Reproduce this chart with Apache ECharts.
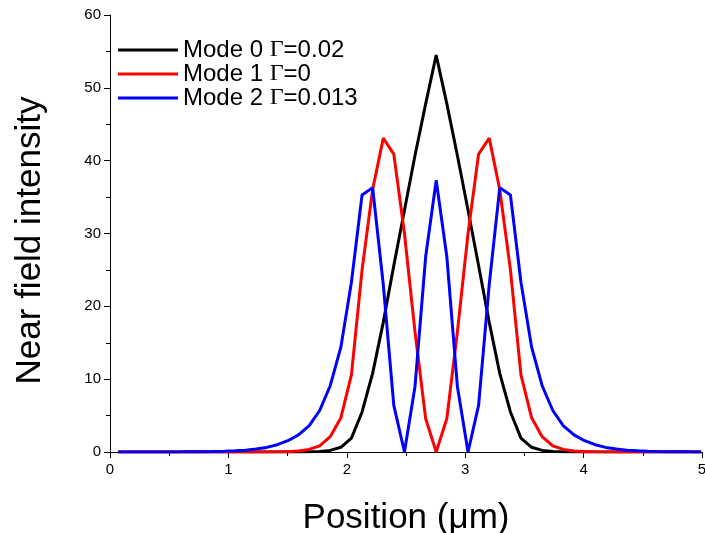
<!DOCTYPE html>
<html>
<head>
<meta charset="utf-8">
<script src="https://cdn.jsdelivr.net/npm/echarts@6/dist/echarts.min.js"></script>
<style>
	html, body { margin: 0; padding: 0; background: #fff; }
</style>
</head>
<body>
<div id="mainnearfield" style="width:705px;height:533px;"></div>
<script>
	// sample positions (um)
	var positions = [0.070, 0.160, 0.249, 0.339, 0.428, 0.518, 0.607, 0.697, 0.786, 0.876,
		0.965, 1.055, 1.144, 1.234, 1.323, 1.413, 1.502, 1.592, 1.681, 1.771,
		1.860, 1.950, 2.039, 2.129, 2.218, 2.308, 2.397, 2.487, 2.576, 2.666,
		2.755, 2.845, 2.934, 3.024, 3.113, 3.203, 3.292, 3.382, 3.471, 3.561,
		3.650, 3.740, 3.829, 3.919, 4.008, 4.098, 4.187, 4.277, 4.366, 4.456,
		4.545, 4.635, 4.724, 4.814, 4.903, 4.993];

	var mode0 = [0, 0, 0, 0, 0, 0, 0, 0, 0, 0,
		0, 0, 0, 0, 0, 0, 0, 0.01, 0.03, 0.08,
		0.22, 0.65, 1.9, 5.5, 10.8, 17.8, 25.6, 33.2, 40.7, 47.8,
		54.5, 47.8, 40.7, 33.2, 25.6, 17.8, 10.8, 5.5, 1.9, 0.65,
		0.22, 0.08, 0.03, 0.01, 0, 0, 0, 0, 0, 0,
		0, 0, 0, 0, 0, 0];

	var mode1 = [0, 0, 0, 0, 0, 0, 0, 0, 0, 0,
		0, 0, 0, 0, 0.01, 0.02, 0.05, 0.14, 0.35, 0.85,
		2.1, 4.7, 10.6, 25.0, 36.0, 43.1, 40.9, 30.0, 16.5, 4.6,
		0, 4.6, 16.5, 30.0, 40.9, 43.1, 36.0, 25.0, 10.6, 4.7,
		2.1, 0.85, 0.35, 0.14, 0.05, 0.02, 0.01, 0, 0, 0,
		0, 0, 0, 0, 0, 0];

	var mode2 = [0.003, 0.004, 0.005, 0.007, 0.01, 0.015, 0.02, 0.03, 0.04, 0.06,
		0.1, 0.16, 0.25, 0.4, 0.63, 1.0, 1.55, 2.35, 3.6, 5.7,
		9.1, 14.4, 23.3, 35.3, 36.3, 23.0, 6.4, 0, 9.0, 26.8,
		37.3, 26.8, 9.0, 0, 6.4, 23.0, 36.3, 35.3, 23.3, 14.4,
		9.1, 5.7, 3.6, 2.35, 1.55, 1.0, 0.63, 0.4, 0.25, 0.16,
		0.1, 0.06, 0.04, 0.03, 0.02, 0.015];

	var modeNames = ['Mode 0 Γ=0.02', 'Mode 1 Γ=0', 'Mode 2 Γ=0.013'];
	var modeColors = ['#000000', '#ff0000', '#0000ff'];

	function toPairs(vals) {
		var out = [];
		for (var i = 0; i < positions.length; i++) {
			out.push([positions[i], vals[i]]);
		}
		return out;
	}

	var nearField = echarts.init(document.getElementById('mainnearfield'), null, {
		renderer: 'canvas'
	});

	var allModes = [mode0, mode1, mode2];
	var seriesList = [];
	for (var m = 0; m < allModes.length; m++) {
		seriesList.push({
			name: modeNames[m],
			type: 'line',
			data: toPairs(allModes[m]),
			symbol: 'none',
			lineStyle: { color: modeColors[m], width: 3 },
			itemStyle: { color: modeColors[m] },
			animation: false
		});
	}

	var axisFont = 'Liberation Sans, Arial, sans-serif';

	option = {
		backgroundColor: '#fff',
		animation: false,
		grid: { left: 110, right: 3, top: 15, bottom: 81, outerBoundsMode: 'none' },
		legend: {
			orient: 'vertical',
			left: 113,
			top: 33,
			itemWidth: 60,
			itemHeight: 3,
			itemGap: 0,
			icon: 'rect',
			data: modeNames,
			formatter: function(name) {
				return name.replace('Γ', '{g|Γ}');
			},
			textStyle: {
				fontSize: 24,
				color: '#000',
				fontFamily: axisFont,
				lineHeight: 24,
				rich: {
					g: { fontFamily: 'Liberation Serif, serif', fontSize: 24, color: '#000' }
				}
			}
		},
		xAxis: {
			type: 'value',
			min: 0,
			max: 5,
			interval: 1,
			name: 'Position (μm)',
			nameLocation: 'middle',
			nameGap: 49,
			nameTextStyle: { fontSize: 35, color: '#000', fontFamily: axisFont },
			axisLine: { lineStyle: { color: '#000', width: 1 } },
			axisTick: { inside: false, length: 6, lineStyle: { color: '#000' } },
			minorTick: { show: true, splitNumber: 2, length: 4, lineStyle: { color: '#000' } },
			axisLabel: { fontSize: 15, color: '#000', margin: 10, fontFamily: axisFont },
			splitLine: { show: false }
		},
		yAxis: {
			type: 'value',
			min: 0,
			max: 60,
			interval: 10,
			name: 'Near field intensity',
			nameLocation: 'middle',
			nameGap: 62,
			nameTextStyle: { fontSize: 35, color: '#000', fontFamily: axisFont, padding: [0, 14, 0, 0] },
			axisLine: { show: true, lineStyle: { color: '#000', width: 1 } },
			axisTick: { show: true, inside: false, length: 6, lineStyle: { color: '#000' } },
			minorTick: { show: true, splitNumber: 2, length: 4, lineStyle: { color: '#000' } },
			axisLabel: { fontSize: 15, color: '#000', margin: 9, fontFamily: axisFont },
			splitLine: { show: false }
		},
		series: seriesList
	};

	nearField.setOption(option);
</script>
</body>
</html>
